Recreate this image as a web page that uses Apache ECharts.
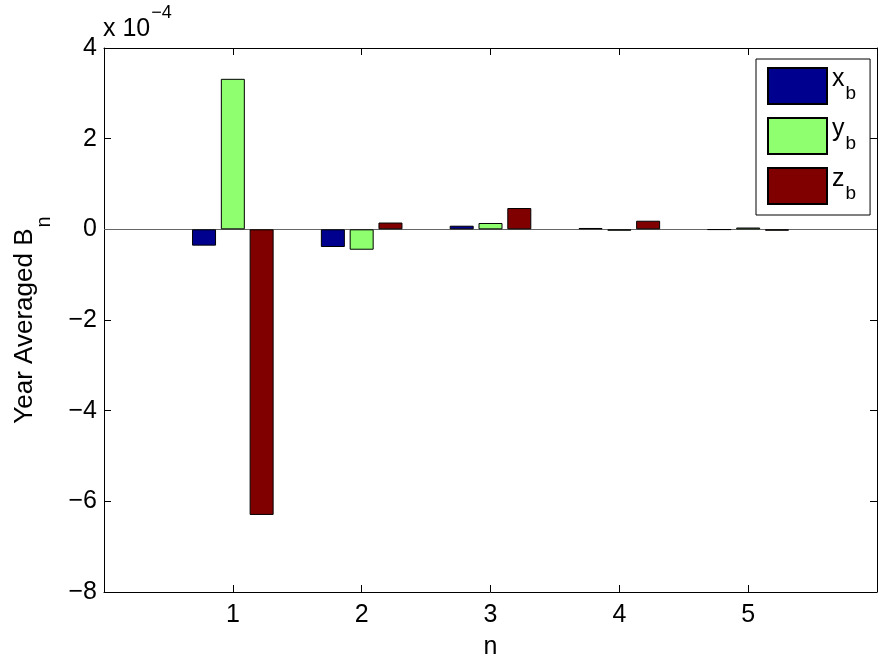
<!DOCTYPE html>
<html>
<head>
<meta charset="utf-8">
<script src="https://cdn.jsdelivr.net/npm/echarts@6/dist/echarts.min.js"></script>
<style>html,body{margin:0;padding:0;background:#fff}#c{width:882px;height:657px}</style>
</head>
<body>
<div id="c"></div>
<script>
// Values in units of 1e-4
var categories = ['', '1', '2', '3', '4', '5', ''];
var xb = [null, -0.36, -0.39, 0.08, 0.03, -0.01, null];
var yb = [null, 3.32, -0.45, 0.14, -0.03, 0.04, null];
var zb = [null, -6.30, 0.15, 0.47, 0.19, -0.03, null];
var yTicks = {min: -8, max: 4, interval: 2};
var seriesNames = ['x_b', 'y_b', 'z_b'];

var FONT = 'Liberation Sans';
var FS = 25;
var chart = echarts.init(document.getElementById('c'), null, {renderer: 'canvas'});
function minus(v) { return String(v).replace('-', '\u2212'); }
var tickShow = function (i) { return i >= 1 && i <= 5; };

var option = {
  animation: false,
  backgroundColor: '#fff',
  textStyle: {fontFamily: FONT},
  title: {
    text: '{a|x 10}{b|\u22124}',
    left: 103, top: 0, padding: 0,
    textStyle: {
      fontWeight: 'normal',
      rich: {
        a: {fontFamily: FONT, fontSize: FS, fontWeight: 'normal', color: '#000', lineHeight: 40, verticalAlign: 'top', padding: [17, 0, 0, 0]},
        b: {fontFamily: FONT, fontSize: 18, fontWeight: 'normal', color: '#000', lineHeight: 40, verticalAlign: 'top', padding: [4, 0, 0, 1]}
      }
    }
  },
  legend: {
    orient: 'vertical',
    left: 756, top: 59,
    padding: [8, 14, 10, 11],
    itemWidth: 59, itemHeight: 36, itemGap: 12,
    borderColor: '#000', borderWidth: 1, backgroundColor: '#fff',
    borderRadius: 0,
    icon: 'rect',
    data: seriesNames,
    formatter: function (n) { var p = n.split('_'); return '{a|' + p[0] + '}{b|' + p[1] + '}'; },
    textStyle: {
      rich: {
        a: {fontFamily: FONT, fontSize: FS, color: '#000', lineHeight: 36, verticalAlign: 'top', padding: [-1, 0, 0, 0]},
        b: {fontFamily: FONT, fontSize: 19, color: '#000', lineHeight: 36, verticalAlign: 'top', padding: [16.5, 0, 0, 1]}
      }
    }
  },
  grid: {left: 104, right: 5, top: 48, bottom: 65, containLabel: false, outerBoundsMode: 'none', show: false},
  xAxis: [{
    type: 'category', data: categories, boundaryGap: false, position: 'bottom',
    name: 'n', nameLocation: 'middle', nameGap: 43,
    nameTextStyle: {fontFamily: FONT, fontSize: FS, color: '#000'},
    axisLine: {show: true, onZero: false, lineStyle: {color: '#000', width: 1}},
    axisTick: {show: true, inside: true, length: 7, interval: function (i) { return tickShow(i); }, lineStyle: {color: '#000'}},
    axisLabel: {show: true, interval: 0, margin: 11, color: '#000', fontSize: FS, fontFamily: FONT},
    splitLine: {show: false}
  }, {
    type: 'category', data: categories, boundaryGap: false, position: 'top',
    axisLine: {show: true, onZero: false, lineStyle: {color: '#000', width: 1}},
    axisTick: {show: true, inside: true, length: 7, interval: function (i) { return tickShow(i); }, lineStyle: {color: '#000'}},
    axisLabel: {show: false},
    splitLine: {show: false}
  }],
  yAxis: [{
    type: 'value', min: yTicks.min, max: yTicks.max, interval: yTicks.interval, position: 'left',
    name: '{a|Year Averaged B}{b|n}', nameLocation: 'middle', nameGap: 52, nameRotate: 90,
    nameTextStyle: {
      rich: {
        a: {fontFamily: FONT, fontSize: 26, color: '#000', lineHeight: 40, verticalAlign: 'top', padding: [0, 0, 0, 0]},
        b: {fontFamily: FONT, fontSize: 20, color: '#000', lineHeight: 40, verticalAlign: 'top', padding: [22, 0, 0, 1]}
      }
    },
    axisLine: {show: true, onZero: false, lineStyle: {color: '#000', width: 1}},
    axisTick: {show: true, inside: true, length: 7, lineStyle: {color: '#000'}},
    axisLabel: {show: true, margin: 7, color: '#000', fontSize: FS, fontFamily: FONT, formatter: minus},
    splitLine: {show: false}
  }, {
    type: 'value', min: yTicks.min, max: yTicks.max, interval: yTicks.interval, position: 'right',
    axisLine: {show: true, onZero: false, lineStyle: {color: '#000', width: 1}},
    axisTick: {show: true, inside: true, length: 7, lineStyle: {color: '#000'}},
    axisLabel: {show: false},
    splitLine: {show: false}
  }],
  series: [{
    name: seriesNames[0], type: 'bar', data: xb, barWidth: 24, barGap: '20%',
    itemStyle: {color: '#00008F', borderColor: '#000', borderWidth: 1},
    markLine: {
      silent: true, symbol: 'none', label: {show: false},
      lineStyle: {color: '#666', width: 1.2, type: 'solid'},
      data: [{yAxis: 0}], z: 1
    }
  }, {
    name: seriesNames[1], type: 'bar', data: yb, barWidth: 24, barGap: '20%',
    itemStyle: {color: '#8FFF70', borderColor: '#000', borderWidth: 1}
  }, {
    name: seriesNames[2], type: 'bar', data: zb, barWidth: 24, barGap: '20%',
    itemStyle: {color: '#800000', borderColor: '#000', borderWidth: 1}
  }]
};
chart.setOption(option);
</script>
</body>
</html>
